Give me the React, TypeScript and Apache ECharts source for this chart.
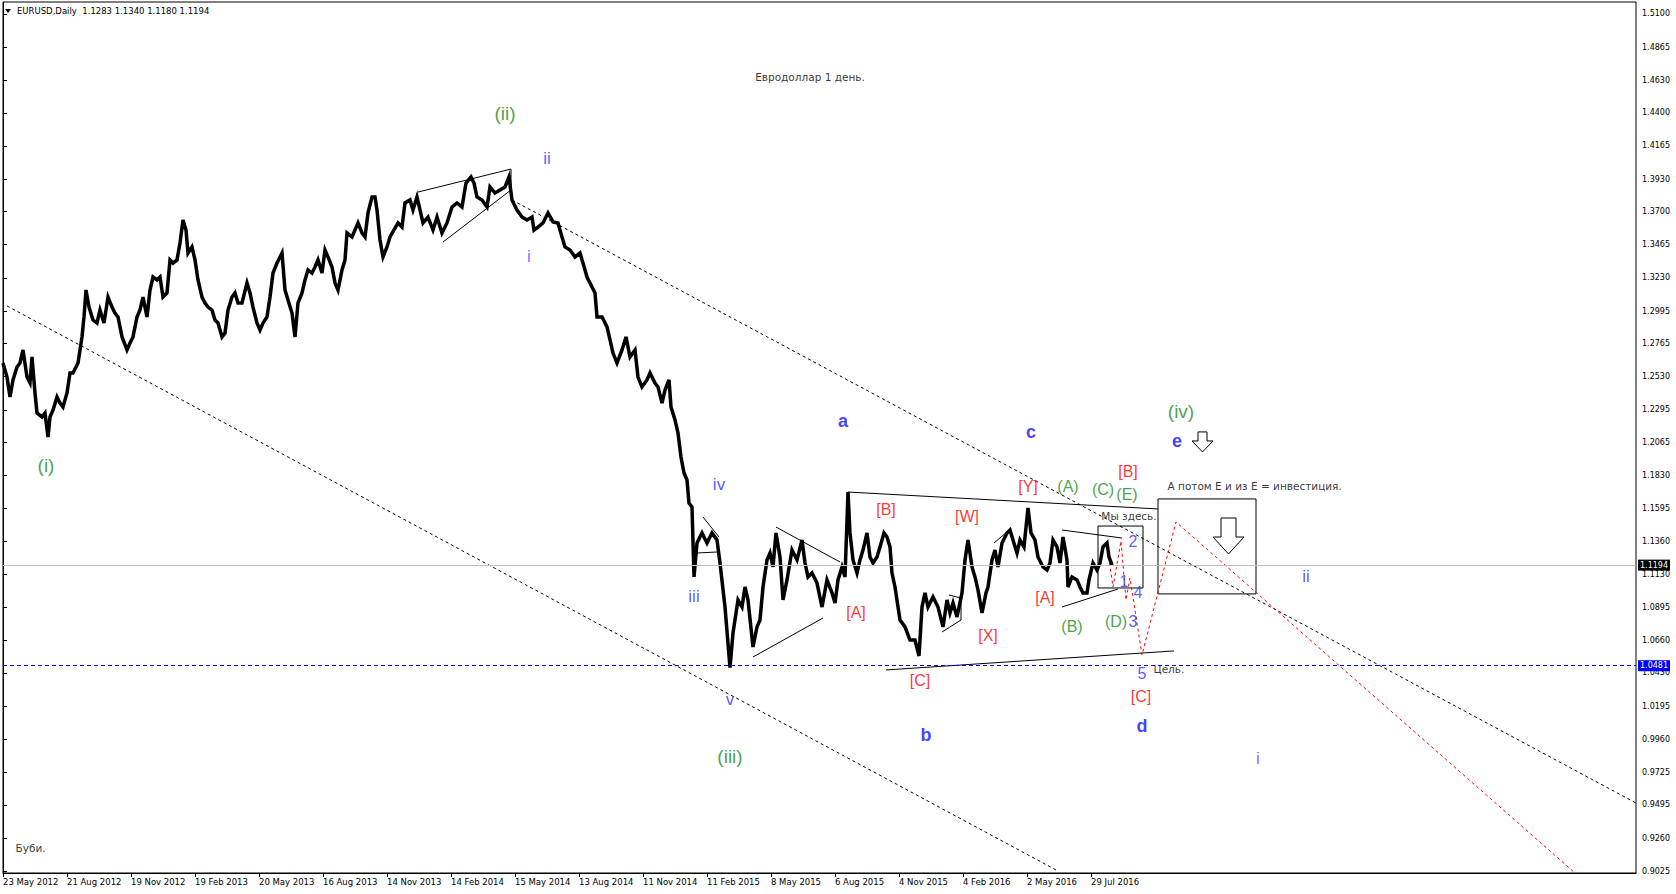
import React, { useEffect, useRef } from "react";
import * as echarts from "echarts";

// ---- axis data ----
const dateLabels = ["23 May 2012", "21 Aug 2012", "19 Nov 2012", "19 Feb 2013", "20 May 2013", "16 Aug 2013", "14 Nov 2013", "14 Feb 2014", "15 May 2014", "13 Aug 2014", "11 Nov 2014", "11 Feb 2015", "8 May 2015", "6 Aug 2015", "4 Nov 2015", "4 Feb 2016", "2 May 2016", "29 Jul 2016"];
const dateTickBars = [0, 64, 128, 192, 256, 320, 384, 448, 512, 576, 640, 704, 768, 832, 896, 960, 1024, 1088];
const priceTicks = [1.51, 1.4865, 1.463, 1.44, 1.4165, 1.393, 1.37, 1.3465, 1.323, 1.2995, 1.2765, 1.253, 1.2295, 1.2065, 1.183, 1.1595, 1.136, 1.113, 1.0895, 1.066, 1.043, 1.0195, 0.996, 0.9725, 0.9495, 0.926, 0.9025];
const currentPrice = 1.1194;
const targetPrice = 1.0481;

// ---- price path [bar index, price] ----
const prices2012to2014 = [[0,1.2627],[4,1.2527],[7,1.2386],[10,1.2506],[14,1.2598],[17,1.2627],[20,1.2719],[24,1.2527],[27,1.2485],[29,1.2669],[32,1.2414],[34,1.2272],[39,1.2244],[42,1.2272],[45,1.2102],[47,1.2244],[50,1.2293],[54,1.2386],[57,1.2343],[60,1.2315],[64,1.2414],[67,1.2556],[70,1.2556],[75,1.2627],[79,1.2811],[81,1.2953],[83,1.3144],[86,1.3023],[90,1.2931],[94,1.291],[97,1.3002],[101,1.291],[105,1.3094],[109,1.3023],[112,1.2981],[115,1.2953],[119,1.2811],[124,1.2719],[127,1.2768],[130,1.2811],[134,1.2953],[137,1.3002],[140,1.3094],[144,1.2953],[147,1.3144],[150,1.3236],[154,1.3215],[157,1.3236],[160,1.3094],[164,1.3123],[167,1.3357],[170,1.3335],[174,1.3357],[177,1.3477],[180,1.364],[183,1.3569],[185,1.3406],[189,1.3449],[192,1.3357],[195,1.3215],[199,1.3094],[202,1.3052],[205,1.3023],[209,1.3002],[212,1.2931],[215,1.291],[219,1.2811],[222,1.2839],[225,1.3002],[229,1.3094],[232,1.3123],[235,1.3052],[239,1.3052],[244,1.3194],[247,1.3123],[250,1.3023],[254,1.291],[257,1.286],[260,1.291],[264,1.2953],[267,1.3094],[270,1.3264],[274,1.3335],[277,1.3378],[279,1.3406],[282,1.3144],[285,1.3073],[289,1.2981],[292,1.2811],[295,1.3052],[299,1.3123],[302,1.3215],[305,1.3286],[309,1.3264],[312,1.3307],[315,1.3357],[319,1.3264],[322,1.3427],[325,1.3378],[329,1.3307],[332,1.3194],[335,1.3144],[339,1.3286],[342,1.3357],[344,1.3548],[349,1.352],[352,1.3569],[355,1.3619],[359,1.3548],[362,1.352],[365,1.369],[369,1.3803],[372,1.3803],[374,1.3711],[377,1.3498],[380,1.3378],[384,1.3449],[387,1.352]];
const prices2014to2015 = [[395,1.3619],[399,1.359],[402,1.3761],[407,1.3782],[410,1.3711],[414,1.3803],[417,1.3711],[420,1.3619],[425,1.3661],[430,1.3569],[434,1.3661],[439,1.3548],[444,1.3619],[449,1.3732],[454,1.3761],[459,1.3732],[463,1.3902],[468,1.3945],[471,1.3902],[474,1.3803],[479,1.3782],[484,1.3732],[487,1.3874],[492,1.3831],[497,1.3853],[502,1.3874],[506,1.3945],[509,1.3782],[514,1.3711],[519,1.3661],[524,1.364],[529,1.3661],[531,1.3569],[535,1.359],[540,1.3619],[545,1.369],[550,1.3626],[555,1.3619],[559,1.352],[562,1.3449],[567,1.3427],[572,1.3378],[577,1.3406],[580,1.3335],[584,1.3236],[589,1.3165],[592,1.3123],[594,1.2953],[599,1.2953],[604,1.2882],[607,1.279],[610,1.2697],[614,1.2627],[619,1.2719],[623,1.2811],[627,1.2669],[632,1.2719],[635,1.2527],[639,1.2457],[644,1.2506],[647,1.2556],[652,1.2485],[655,1.2457],[659,1.2343],[662,1.2435],[666,1.2506],[668,1.2315],[672,1.2223],[675,1.213],[678,1.196],[681,1.1847],[684,1.1797],[686,1.1634],[689,1.1606],[691,1.1111],[694,1.1351],[699,1.1422],[704,1.1351],[709,1.1422],[714,1.1372],[717,1.1209]];
const prices2015to2016 = [[722,1.0897],[727,1.0468],[730,1.0713],[735,1.0947],[739,1.0897],[742,1.1039],[745,1.0947],[750,1.0614],[754,1.0756],[757,1.0805],[760,1.1039],[764,1.1231],[767,1.128],[770,1.1181],[773,1.1422],[777,1.1252],[780,1.0947],[784,1.1089],[789,1.1301],[794,1.1231],[799,1.1372],[802,1.1209],[805,1.111],[809,1.1138],[814,1.1067],[819,1.0897],[824,1.1089],[829,1.0997],[832,1.0926],[835,1.1089],[839,1.1181],[842,1.111],[845,1.1712],[847,1.1422],[850,1.1231],[854,1.1138],[857,1.1231],[860,1.1301],[864,1.1422],[867,1.1252],[870,1.1209],[874,1.1252],[877,1.1323],[881,1.1422],[884,1.1393],[887,1.1323],[889,1.1138],[892,1.1039],[897,1.0805],[902,1.0756],[907,1.0663],[912,1.0663],[916,1.0550],[919,1.0897],[922,1.0997],[925,1.0897],[930,1.0968],[935,1.0897],[940,1.0756],[944,1.0947],[947,1.0855],[950,1.0926],[954,1.0827],[959,1.0997],[962,1.1231],[965,1.1372],[969,1.1181],[972,1.111],[975,1.1018],[979,1.0855],[983,1.0997],[985,1.1039],[989,1.1231],[992,1.1301],[995,1.1181],[999,1.1351],[1004,1.1422],[1007,1.1443],[1010,1.1372],[1014,1.128],[1017,1.1372],[1021,1.1323],[1025,1.1600],[1028,1.1422],[1032,1.1372],[1035,1.1252],[1040,1.1181],[1044,1.1159],[1047,1.1209],[1050,1.1372],[1054,1.1323],[1057,1.1209],[1060,1.1393],[1064,1.1231],[1065,1.1039],[1069,1.111],[1074,1.1089],[1077,1.1039],[1080,1.0997],[1084,1.0997],[1086,1.1089],[1090,1.1209],[1094,1.1159],[1097,1.1209],[1100,1.1323],[1104,1.1351],[1106,1.1252],[1109,1.1194]];

// ---- drawn objects [bar index, price] ----
const channelLines = [
  [[509, 1.3782], [1633, 0.9508]],
  [[4, 1.3031], [1055, 0.9026]],
];
const patternLines = [
  [[415, 1.3838], [508, 1.4001], [508, 1.3853], [440, 1.3484]],
  [[700, 1.1535], [716, 1.1393]],
  [[694, 1.128], [714, 1.1287]],
  [[750, 1.0543], [820, 1.0819]],
  [[773, 1.1464], [837, 1.1216]],
  [[845, 1.1712], [1155, 1.1592]],
  [[883, 1.0451], [1171, 1.0586]],
  [[946, 1.0982], [958, 1.0961], [958, 1.0805], [939, 1.072]],
  [[991, 1.1351], [1004, 1.1429]],
  [[1059, 1.1443], [1119, 1.1386]],
  [[1059, 1.0897], [1115, 1.1025]],
  [[1095, 1.1471], [1140, 1.1471], [1140, 1.1032], [1095, 1.1032], [1095, 1.1471]],
  [[1155, 1.1663], [1253, 1.1663], [1253, 1.099], [1155, 1.099], [1155, 1.1663]],
  [[1218, 1.1528], [1233, 1.1528], [1233, 1.1393], [1241, 1.1393], [1225.5, 1.1273], [1210, 1.1393], [1218, 1.1393], [1218, 1.1528]],
  [[1195, 1.2138], [1204, 1.2138], [1204, 1.2074], [1210, 1.2074], [1199.5, 1.1996], [1189, 1.2074], [1195, 1.2074], [1195, 1.2138]],
];
const forecastPath = [[1104, 1.1337], [1110, 1.1039], [1118, 1.1365], [1123, 1.0947], [1127, 1.1103], [1139, 1.0557], [1173, 1.15], [1572, 0.9012]];

// ---- texts [text, bar index, price] ----
const greenDegree = [["(i)", 43, 1.1897], ["(ii)", 502, 1.4398], ["(iii)", 727, 0.9841], ["(iv)", 1178, 1.2286]];
const blueRoman = [["ii", 544, 1.4079], ["iii", 691, 1.0975], ["iv", 716, 1.1762], ["v", 727, 1.0245], ["ii", 1303, 1.111]];
const violetRoman = [["i", 526, 1.3378], ["i", 1255, 0.9827]];
const blueLetters = [["a", 840, 1.2216], ["b", 923, 0.999], ["c", 1028, 1.2138], ["d", 1139, 1.0054], ["e", 1174, 1.2074]];
const redBrackets = [["[A]", 853, 1.0855], ["[B]", 883, 1.1585], ["[C]", 917, 1.0373], ["[W]", 964, 1.1542], ["[X]", 985, 1.0692], ["[Y]", 1025, 1.1748], ["[A]", 1042, 1.0961], ["[B]", 1125, 1.1854], ["[C]", 1138, 1.026]];
const greenMinor = [["(A)", 1065, 1.1748], ["(B)", 1069, 1.0756], ["(C)", 1100, 1.1727], ["(E)", 1124, 1.1698], ["(D)", 1113, 1.0791]];
const blueDigits = [["1", 1121, 1.1075], ["2", 1130, 1.1358], ["3", 1130, 1.0791], ["4", 1135, 1.0997], ["5", 1139, 1.0429]];
const centeredNotes = [["Евродоллар 1 день.", 807, 1.4654], ["Мы здесь.", 1126, 1.1542]];
const leftNotes = [["А потом Е и из Е = инвестиция.", 1164, 1.1755], ["Цель.", 1150, 1.0458], ["Буби.", 12, 0.9189]];
const headerText = "EURUSD,Daily  1.1283 1.1340 1.1180 1.1194";

const AXIS_FONT = "DejaVu Sans";
const WAVE_FONT = "Liberation Sans";

function labelSeries(rows: any[], style: any, position: string = "inside") {
  return {
    type: "scatter",
    silent: true,
    symbolSize: 1,
    itemStyle: { color: "rgba(0,0,0,0)" },
    z: 6,
    data: rows.map(([t, x, y]) => ({ name: t, value: [x, y] })),
    label: { show: true, position, distance: 0, formatter: "{b}", ...style },
  };
}

function lineSeries(paths: any[], lineStyle: any) {
  return {
    type: "lines",
    coordinateSystem: "cartesian2d",
    polyline: true,
    silent: true,
    z: 3,
    data: paths.map((coords) => ({ coords })),
    lineStyle: { opacity: 1, curveness: 0, ...lineStyle },
  };
}

function buildOption(): any {
  const markLabel = (bg: string) => ({
    show: true,
    position: "end",
    distance: 2,
    color: "#fff",
    backgroundColor: bg,
    padding: [2, 2, 1, 2],
    fontSize: 8,
    fontFamily: AXIS_FONT,
    formatter: (p: any) => Number(p.value).toFixed(4),
  });
  return {
    animation: false,
    backgroundColor: "#fff",
    grid: { left: 3, right: 40, top: 2, bottom: 21, show: true, borderColor: "#000", borderWidth: 1 },
    xAxis: {
      type: "value",
      min: 0,
      max: 1633,
      axisLine: { show: true, lineStyle: { color: "#000" } },
      axisTick: { show: true, customValues: dateTickBars, length: 4, lineStyle: { color: "#000" } },
      axisLabel: {
        customValues: dateTickBars,
        formatter: (v: number) => dateLabels[dateTickBars.indexOf(v)] ?? "",
        align: "left",
        margin: 4,
        fontSize: 8.5,
        fontFamily: AXIS_FONT,
        color: "#000",
      },
      splitLine: { show: false },
    },
    yAxis: {
      type: "value",
      position: "right",
      min: 0.9012,
      max: 1.5185,
      axisLine: { show: true, lineStyle: { color: "#000" } },
      axisTick: { show: true, customValues: priceTicks, length: 4, lineStyle: { color: "#000" } },
      axisLabel: {
        customValues: priceTicks,
        formatter: (v: number) => v.toFixed(4),
        margin: 6,
        fontSize: 8,
        fontFamily: AXIS_FONT,
        color: "#000",
      },
      splitLine: { show: false },
    },
    graphic: [
      { type: "polygon", shape: { points: [[5, 9], [11, 9], [8, 13]] }, style: { fill: "#000" } },
      { type: "text", x: 17, y: 11, style: { text: headerText, fill: "#000", font: `8.5px "${AXIS_FONT}"`, verticalAlign: "middle" } },
    ],
    series: [
      lineSeries(channelLines, { color: "#000", width: 1, type: [3, 3] }),
      lineSeries(patternLines, { color: "#000", width: 1, type: "solid" }),
      lineSeries([forecastPath], { color: "#ff0000", width: 1, type: [3, 3] }),
      {
        type: "line",
        silent: true,
        z: 4,
        symbol: "none",
        showSymbol: false,
        data: [...prices2012to2014, ...prices2014to2015, ...prices2015to2016],
        lineStyle: { color: "#000", width: 3.5, join: "miter" },
        markLine: {
          silent: true,
          precision: 4,
          symbol: ["none", "none"],
          data: [
            { yAxis: currentPrice, lineStyle: { color: "#c0c0c0", type: "solid", width: 1 }, label: markLabel("#000") },
            { yAxis: targetPrice, lineStyle: { color: "#0000ff", type: [4, 3], width: 1 }, label: markLabel("#0000ff") },
          ],
        },
      },
      labelSeries(greenDegree, { color: "#1a8a1a", fontSize: 19, fontFamily: WAVE_FONT }),
      labelSeries(blueRoman, { color: "#3030ff", fontSize: 17, fontFamily: WAVE_FONT }),
      labelSeries(violetRoman, { color: "#6a3cff", fontSize: 17, fontFamily: WAVE_FONT }),
      labelSeries(blueLetters, { color: "#1010ff", fontSize: 18, fontWeight: "bold", fontFamily: WAVE_FONT }),
      labelSeries(redBrackets, { color: "#ff0000", fontSize: 16, fontFamily: WAVE_FONT }),
      labelSeries(greenMinor, { color: "#1a8a1a", fontSize: 16, fontFamily: WAVE_FONT }),
      labelSeries(blueDigits, { color: "#3030ff", fontSize: 16, fontFamily: WAVE_FONT }),
      labelSeries(centeredNotes, { color: "#000", fontSize: 10.5, fontFamily: AXIS_FONT }),
      labelSeries(leftNotes, { color: "#000", fontSize: 10.5, fontFamily: AXIS_FONT }, "right"),
    ],
  };
}

export default function App() {
  const ref = useRef<HTMLDivElement>(null);
  useEffect(() => {
    if (!ref.current) return;
    const chart = echarts.init(ref.current, null, { renderer: "svg" });
    chart.setOption(buildOption());
    return () => chart.dispose();
  }, []);
  return (
    <div
      ref={ref}
      style={{ position: "fixed", left: 0, top: 0, width: 1676, height: 894, background: "#fff" }}
    />
  );
}
